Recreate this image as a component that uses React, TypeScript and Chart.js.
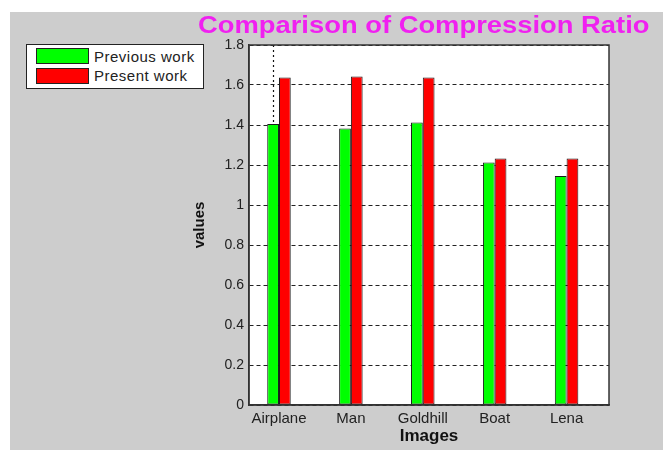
import React, { useEffect, useRef } from "react";
import { Chart, registerables } from "chart.js";

Chart.register(...registerables);

const categories = ["Airplane", "Man", "Goldhill", "Boat", "Lena"];
const previousWork = [1.405, 1.383, 1.412, 1.213, 1.145];
const presentWork = [1.638, 1.642, 1.638, 1.233, 1.233];
const yTicks = [0, 0.2, 0.4, 0.6, 0.8, 1, 1.2, 1.4, 1.6, 1.8];
const seriesLabels = ["Previous work", "Present work"];
const seriesColors = ["#00ff00", "#ff0000"];
const titleText = "Comparison of Compression Ratio";
const xTitle = "Images";
const yTitle = "values";

const FONT = "'Liberation Sans', Arial, sans-serif";

const framePlugin = {
  id: "frame",
  beforeDraw(chart: any) {
    const { ctx, chartArea } = chart;
    ctx.save();
    ctx.fillStyle = "#ffffff";
    ctx.fillRect(chartArea.left, chartArea.top, chartArea.right - chartArea.left, chartArea.bottom - chartArea.top);
    ctx.restore();
  },
  afterDatasetsDraw(chart: any) {
    const { ctx, chartArea } = chart;
    const el = chart.getDatasetMeta(0).data[0];
    if (el) {
      ctx.save();
      ctx.strokeStyle = "#111";
      ctx.lineWidth = 1.2;
      ctx.setLineDash([2, 3]);
      ctx.beginPath();
      ctx.moveTo(Math.round(el.x) + 0.5, chartArea.top);
      ctx.lineTo(Math.round(el.x) + 0.5, el.y);
      ctx.stroke();
      ctx.restore();
    }
  },
  afterDraw(chart: any) {
    const { ctx, chartArea } = chart;
    ctx.save();
    ctx.strokeStyle = "#333";
    ctx.lineWidth = 1.5;
    ctx.strokeRect(chartArea.left, chartArea.top, chartArea.right - chartArea.left, chartArea.bottom - chartArea.top);
    ctx.restore();
  },
};

export default function App() {
  const canvasRef = useRef<HTMLCanvasElement | null>(null);

  useEffect(() => {
    const canvas = canvasRef.current;
    if (!canvas) return;
    const series = [previousWork, presentWork];
    const chart = new Chart(canvas, {
      type: "bar",
      data: {
        datasets: series.map((vals, s) => ({
          label: seriesLabels[s],
          data: categories.map((_, i) => ({ x: i + 1, y: vals[i] })),
          backgroundColor: seriesColors[s],
          borderColor: "#1a1a1a",
          borderWidth: 1,
          borderSkipped: false,
          categoryPercentage: 0.327,
          barPercentage: 1,
        })),
      },
      options: {
        responsive: false,
        animation: false,
        layout: { padding: { left: 175, top: 33, right: 54, bottom: 0 } },
        plugins: {
          legend: { display: false },
          tooltip: { enabled: false },
          title: { display: false },
        },
        scales: {
          x: {
            type: "linear",
            min: 0.583,
            max: 5.59,
            offset: false,
            grid: { display: false, drawTicks: false },
            border: { display: true, color: "#333", width: 1.5 },
            afterBuildTicks: (s: any) => {
              s.ticks = categories.map((_, i) => ({ value: i + 1 }));
            },
            afterFit: (s: any) => {
              s.height = 45;
            },
            ticks: {
              autoSkip: false,
              maxRotation: 0,
              padding: 5,
              color: "#222",
              font: { family: FONT, size: 15 },
              callback: (v: any) => categories[Math.round(Number(v)) - 1] ?? "",
            },
            title: {
              display: true,
              text: xTitle,
              color: "#111",
              font: { family: FONT, size: 17, weight: "bold" },
              padding: { top: 0, bottom: 3 },
            },
          },
          y: {
            type: "linear",
            min: 0,
            max: 1.8,
            afterBuildTicks: (s: any) => {
              s.ticks = yTicks.map((v) => ({ value: v }));
            },
            afterFit: (s: any) => {
              s.width = 64;
            },
            grid: { color: "#222", drawTicks: false, lineWidth: 1 },
            border: { display: true, color: "#333", width: 1.5, dash: [4, 3] },
            ticks: {
              padding: 5,
              color: "#222",
              font: { family: FONT, size: 14 },
              callback: (v: any) => String(Math.round(Number(v) * 10) / 10),
            },
            title: {
              display: true,
              text: yTitle,
              color: "#111",
              font: { family: FONT, size: 15, weight: "bold" },
              padding: { top: 6, bottom: 0 },
            },
          },
        },
      } as any,
      plugins: [framePlugin],
    });
    return () => chart.destroy();
  }, []);

  return (
    <div
      style={{
        position: "absolute",
        left: 10,
        top: 12,
        width: 653,
        height: 438,
        background: "#cdcdcd",
        overflow: "hidden",
        fontFamily: FONT,
      }}
    >
      <canvas ref={canvasRef} width={653} height={438} style={{ display: "block" }} />
      <div
        style={{
          position: "absolute",
          left: 188,
          top: 1,
          fontSize: 24,
          lineHeight: "24px",
          fontWeight: "bold",
          color: "#f020f0",
          whiteSpace: "nowrap",
          transform: "scaleX(1.14)",
          transformOrigin: "left top",
        }}
      >
        {titleText}
      </div>
      <div
        style={{
          position: "absolute",
          left: 16,
          top: 32,
          width: 176,
          height: 43,
          background: "#ffffff",
          border: "1px solid #222",
        }}
      >
        {seriesLabels.map((lab, i) => (
          <div
            key={lab}
            style={{
              position: "absolute",
              left: 9,
              top: 3 + i * 19.5,
              height: 16,
              display: "flex",
              alignItems: "center",
              whiteSpace: "nowrap",
            }}
          >
            <div
              style={{
                width: 51,
                height: 14,
                background: seriesColors[i],
                border: "1px solid #222",
              }}
            />
            <span style={{ marginLeft: 5, fontSize: 15, letterSpacing: 0.5, color: "#222" }}>{lab}</span>
          </div>
        ))}
      </div>
    </div>
  );
}
